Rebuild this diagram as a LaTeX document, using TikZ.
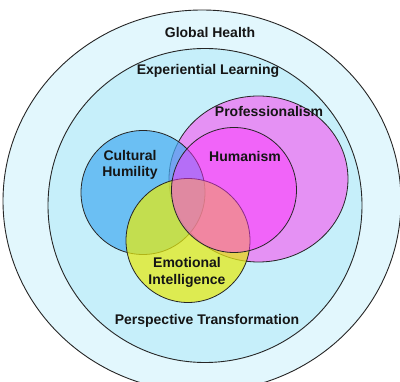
\documentclass[tikz,border=0pt]{standalone}
\usepackage{fontspec}
\setmainfont{Liberation Sans}
\definecolor{globalfill}{HTML}{E2F7FD}
\definecolor{learnfill}{HTML}{C6EFFA}
\definecolor{proffill}{HTML}{FF44F0}
\definecolor{humfill}{HTML}{FF33FF}
\definecolor{cultfill}{HTML}{45ABF1}
\definecolor{emofill}{HTML}{E6EA10}
\definecolor{labeltext}{HTML}{151515}
\begin{document}
\begin{tikzpicture}[x=1pt,y=-1pt,
  ring/.style={draw=black!85, line width=0.9pt},
  venn/.style={draw=black!85, line width=0.8pt},
  lbl/.style={font=\bfseries\fontsize{14}{16.5}\selectfont, text=labeltext,
              align=center, inner sep=0pt}]
\useasboundingbox (0,0) rectangle (400,382);
\clip (0,0) rectangle (400,382);
\fill[white] (0,0) rectangle (400,382);

% nested context rings
\filldraw[ring, fill=globalfill] (202,201) ellipse [x radius=199pt, y radius=191pt];
\filldraw[ring, fill=learnfill] (205,205.5) circle [radius=157pt];

% overlapping competencies
\filldraw[venn, fill=proffill, fill opacity=0.55] (258.5,179) ellipse [x radius=89.5pt, y radius=83pt];
\filldraw[venn, fill=cultfill, fill opacity=0.7] (143,192.5) circle [radius=62pt];
\filldraw[venn, fill=emofill, fill opacity=0.72] (188,240.5) circle [radius=62pt];
\filldraw[venn, fill=humfill, fill opacity=0.47] (234,190) circle [radius=62.5pt];

% labels
\node[lbl] (global) at (210,32) {Global Health};
\node[lbl] (learning) at (208,71) {Experiential Learning};
\node[lbl] (prof) at (269,111) {Professionalism};
\node[lbl] (hum) at (245,156.5) {Humanism};
\node[lbl] (cult) at (130,165) {Cultural\\Humility};
\node[lbl] (emo) at (187,272.5) {Emotional\\Intelligence};
\node[lbl] (persp) at (207,321) {Perspective Transformation};
\end{tikzpicture}
\end{document}
